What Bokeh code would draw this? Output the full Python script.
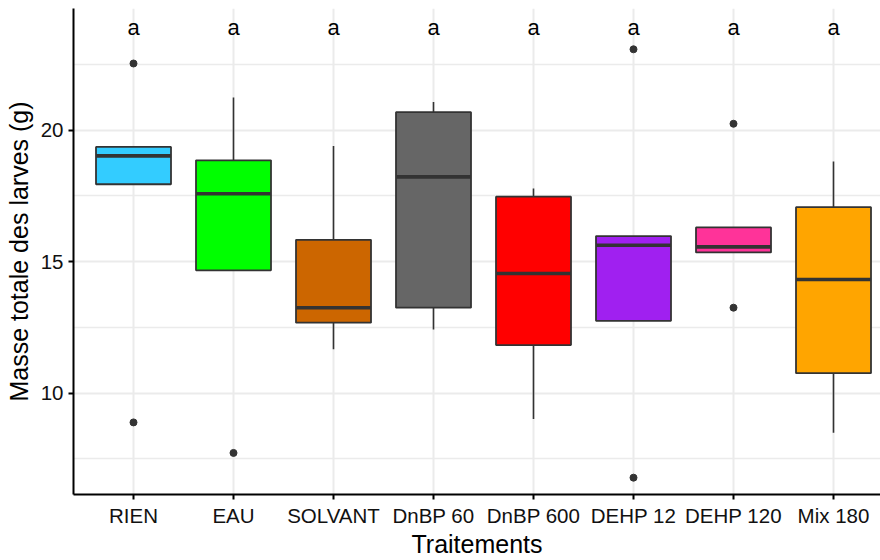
from bokeh.plotting import figure
from bokeh.models import Range1d, FixedTicker, ColumnDataSource
from bokeh.core.properties import value
from bokeh.embed import file_html
from bokeh.resources import INLINE

groups = ["RIEN", "EAU", "SOLVANT", "DnBP 60", "DnBP 600", "DEHP 12", "DEHP 120", "Mix 180"]
lower = [17.94, 14.67, 11.67, 12.42, 9.02, 12.75, 15.35, 8.50]
q1 = [17.94, 14.67, 12.68, 13.25, 11.83, 12.75, 15.35, 10.76]
median = [19.02, 17.58, 13.25, 18.22, 14.55, 15.62, 15.56, 14.32]
q3 = [19.36, 18.85, 15.83, 20.68, 17.47, 15.97, 16.30, 17.07]
upper = [19.36, 21.24, 19.39, 21.07, 17.78, 15.97, 16.30, 18.81]
colors = ["#33CCFF", "#00FF00", "#CC6600", "#666666", "#FF0000", "#A020F0", "#FF3399", "#FFA500"]
outlier_group = ["RIEN", "RIEN", "EAU", "DEHP 12", "DEHP 12", "DEHP 120", "DEHP 120"]
outlier_value = [22.53, 8.89, 7.73, 23.07, 6.79, 20.24, 13.25]
letters = ["a", "a", "a", "a", "a", "a", "a", "a"]

FONT = "Liberation Sans"
BOX_W = 0.75
xs = [i + 1 for i in range(len(groups))]

p = figure(width=880, height=560, output_backend="svg", toolbar_location=None,
           x_range=Range1d(0.4, 8.47), y_range=Range1d(6.15, 24.62),
           min_border_left=73, min_border_top=8, min_border_right=0, min_border_bottom=55)
p.outline_line_color = None
p.background_fill_color = "white"
p.border_fill_color = "white"

src = ColumnDataSource(dict(
    x=xs, lower=lower, q1=q1, median=median, q3=q3, upper=upper, color=colors,
    x0=[x - BOX_W / 2 for x in xs], x1=[x + BOX_W / 2 for x in xs],
    ly=[23.9] * len(xs), letter=letters))

# whiskers
p.segment(x0="x", y0="q3", x1="x", y1="upper", source=src, line_color="#333333", line_width=1.6)
p.segment(x0="x", y0="lower", x1="x", y1="q1", source=src, line_color="#333333", line_width=1.6)
# boxes
p.vbar(x="x", width=BOX_W, bottom="q1", top="q3", source=src, fill_color="color",
       line_color="#333333", line_width=1.8)
# medians
p.segment(x0="x0", y0="median", x1="x1", y1="median", source=src, line_color="#333333", line_width=3.6)
# outliers
ox = [groups.index(g) + 1 for g in outlier_group]
p.scatter(x=ox, y=outlier_value, size=7, fill_color="#333333", line_color="#333333")
# letters
p.text(x="x", y="ly", text="letter", source=src, text_align="center", text_baseline="middle",
       text_font=value(FONT), text_font_size="22px", text_color="black")

# axes
p.xaxis.ticker = FixedTicker(ticks=xs)
p.xaxis.major_label_overrides = {x: g for x, g in zip(xs, groups)}
p.yaxis.ticker = FixedTicker(ticks=[10, 15, 20], minor_ticks=[7.5, 12.5, 17.5, 22.5])
for ax in (p.xaxis, p.yaxis):
    ax.axis_line_color = "black"
    ax.axis_line_width = 2
    ax.major_tick_line_color = "black"
    ax.major_tick_line_width = 2
    ax.major_tick_out = 5
    ax.major_tick_in = 0
    ax.minor_tick_line_color = None
    ax.major_label_text_font = FONT
    ax.major_label_text_font_size = "20.5px"
    ax.major_label_text_color = "#111111"
    ax.axis_label_text_font = FONT
    ax.axis_label_text_font_size = "25px"
    ax.axis_label_text_font_style = "normal"
    ax.axis_label_text_color = "black"
p.xaxis.axis_label = "Traitements"
p.yaxis.axis_label = "Masse totale des larves (g)"
p.xaxis.major_label_standoff = 4
p.xaxis.axis_label_standoff = 0
p.yaxis.major_label_standoff = 5
p.yaxis.axis_label_standoff = 5

p.xgrid.grid_line_color = "#EBEBEB"
p.xgrid.grid_line_width = 2
p.ygrid.grid_line_color = "#EBEBEB"
p.ygrid.grid_line_width = 2
p.ygrid.minor_grid_line_color = "#EBEBEB"
p.ygrid.minor_grid_line_width = 1.6

open("out.html", "w").write(file_html(p, INLINE))
